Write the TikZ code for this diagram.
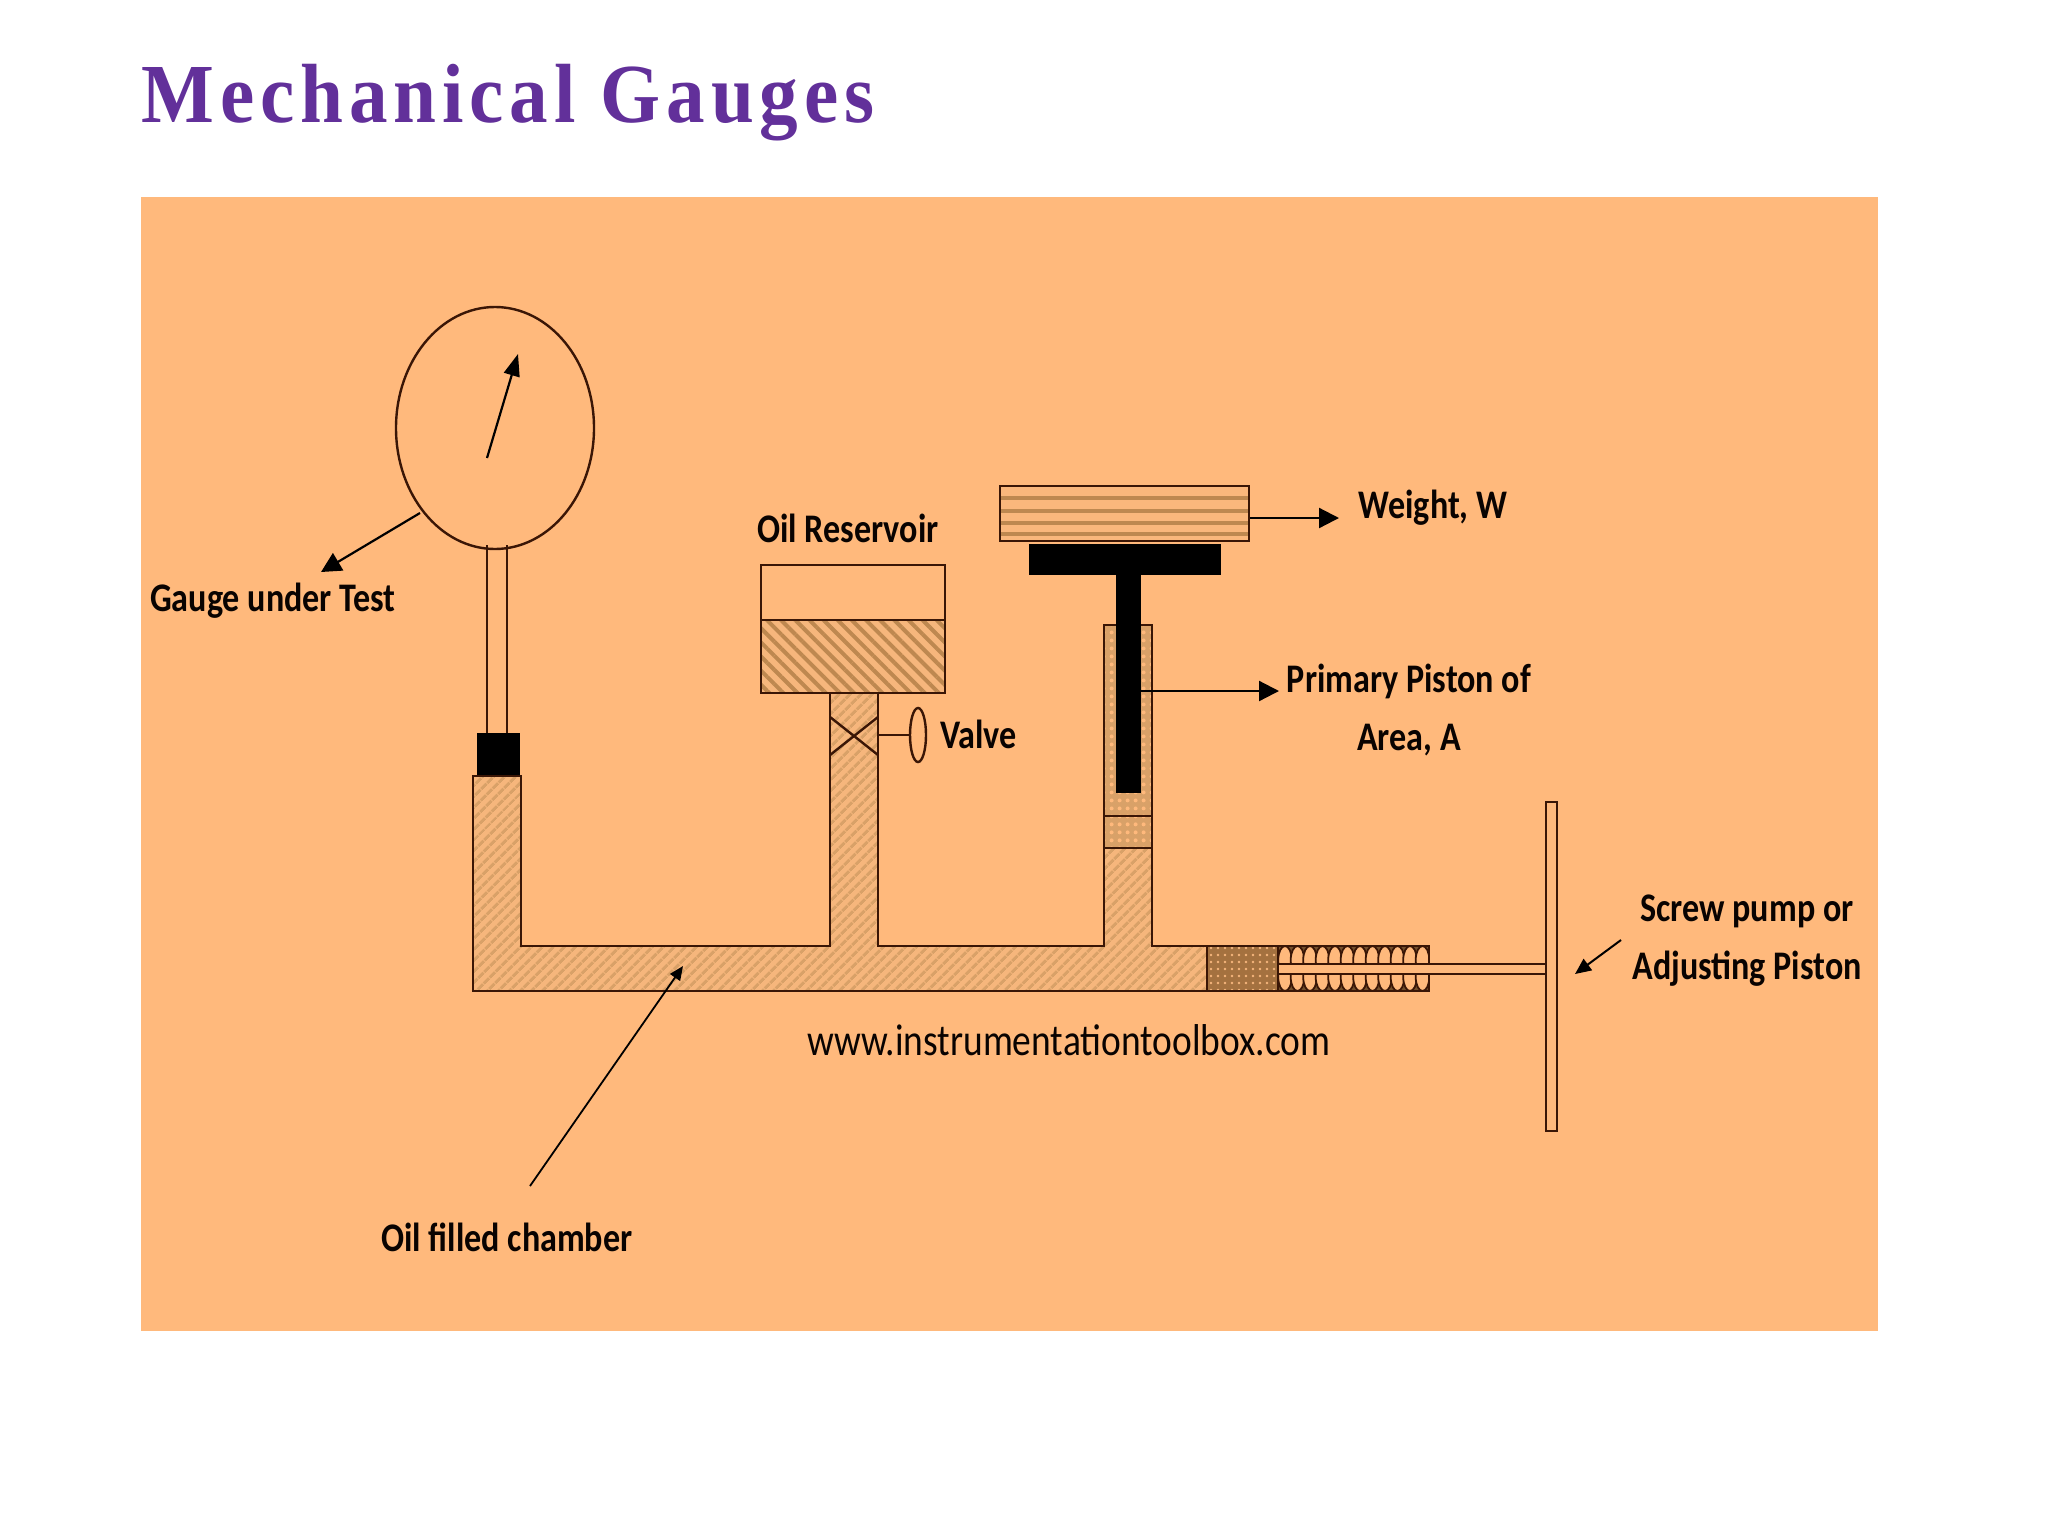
\documentclass[tikz,border=0pt]{standalone}
\usepackage{fontspec}
\setmainfont[FakeStretch=0.84]{Carlito}
\newfontfamily\titlefont[LetterSpace=7, FakeStretch=0.918]{Liberation Serif}
\usetikzlibrary{positioning, calc, arrows.meta, shapes.geometric, patterns.meta}
\definecolor{PanelOrange}{HTML}{FFB97C}
\definecolor{TitlePurple}{HTML}{62309A}
\definecolor{WallBrown}{HTML}{3A1606}
\definecolor{OilLight}{HTML}{F6B67C}
\definecolor{OilLine}{HTML}{D9A168}
\definecolor{TankLine}{HTML}{BE8850}
\definecolor{PlugBrown}{HTML}{A4713F}

\begin{document}
\begin{tikzpicture}[
  x=0.5pt, y=-0.5pt,
  wall/.style={draw=WallBrown, line width=1.2pt},
  oilfill/.style={wall, preaction={fill=OilLight}, pattern={Lines[angle=45, distance=4pt, line width=1.6pt]}, pattern color=OilLine},
  tankfill/.style={wall, preaction={fill=OilLight}, pattern={Lines[angle=-45, distance=5pt, line width=2pt]}, pattern color=TankLine},
  crossfill/.style={wall, preaction={fill=OilLine}, pattern={Dots[distance=4pt, radius=1.1pt]}, pattern color=PanelOrange},
  lbl/.style={font=\fontsize{20.3}{24}\selectfont\bfseries, text=black!85!WallBrown, align=center, inner sep=0pt},
  arr/.style={-{Triangle[length=10pt, width=10pt]}, black, line width=1.1pt},
  blk/.style={fill=black, draw=none}
]
  \useasboundingbox (0,0) rectangle (2048,1536);
  \fill[PanelOrange] (141,197) rectangle (1878,1331);
  \node[anchor=base west, inner sep=0pt, text=TitlePurple, font=\titlefont\fontsize{42}{48}\selectfont\bfseries] (title) at (141,122) {Mechanical Gauges};

  % gauge
  \draw[wall] (487,545) -- (487,733) (507,545) -- (507,733);
  \node[ellipse, wall, minimum width=99pt, minimum height=121pt, inner sep=0pt] (gauge) at (495,428) {};
  \coordinate (needlebase) at (487,458);
  \coordinate (needletip) at (518,354);
  \draw[arr, -{Triangle[length=11pt, width=8pt]}] (needlebase) -- (needletip);
  \node[blk, minimum width=21.5pt, minimum height=21.5pt, inner sep=0pt] (gaugeblock) at (498,754.5) {};

  % chamber and legs
  \draw[oilfill] (473,776) -- (521,776) -- (521,946) -- (830,946) -- (830,693) -- (878,693) -- (878,946)
    -- (1104,946) -- (1104,848) -- (1152,848) -- (1152,946) -- (1207,946) -- (1207,991) -- (473,991) -- cycle;

  % reservoir
  \draw[wall] (761,565) rectangle (945,620);
  \draw[tankfill] (761,620) rectangle (945,693);
  \coordinate (valveTL) at (830,717);
  \coordinate (valveTR) at (878,717);
  \coordinate (valveBL) at (830,755);
  \coordinate (valveBR) at (878,755);
  \draw[wall] (valveTL) -- (valveBR) (valveTR) -- (valveBL);
  \node[ellipse, wall, minimum width=8pt, minimum height=27pt, inner sep=0pt] (valvewheel) at (918,735) {};
  \coordinate (valveside) at (878,735);
  \draw[wall] (valveside) -- (valvewheel);

  % piston
  \draw[crossfill] (1104,625) rectangle (1152,816);
  \draw[crossfill] (1104,816) rectangle (1152,848);
  \fill[black] (1029,544) rectangle (1221,575);
  \fill[black] (1116,575) rectangle (1141,793);
  \coordinate (stemside) at (1141,691);
  \node[wall, fill=OilLight!60!PanelOrange, minimum width=124.5pt, minimum height=27.5pt, inner sep=0pt] (weight) at (1124.5,513.5) {};
  \foreach \y in {498,511,523,534} {
    \draw[TankLine, line width=1.6pt] (1001,\y) -- (1248,\y);
  }

  % screw pump
  \fill[PlugBrown!70!black] (1278,946) rectangle (1429,991);
  \begin{scope}
    \clip (1278,946) rectangle (1429,964);
    \foreach \i in {0,...,11} {
      \draw[wall, line width=0.9pt, fill=PanelOrange] ({1285+\i*12.5},960) ellipse (6.8 and 14);
    }
  \end{scope}
  \begin{scope}
    \clip (1278,974) rectangle (1429,991);
    \foreach \i in {0,...,11} {
      \draw[wall, line width=0.9pt, fill=PanelOrange] ({1285+\i*12.5},977) ellipse (6.8 and 14);
    }
  \end{scope}
  \draw[wall] (1278,946) -- (1429,946) -- (1429,991) -- (1278,991);
  \draw[wall, preaction={fill=PlugBrown}, pattern={Dots[distance=3.5pt, radius=0.7pt]}, pattern color=OilLight] (1207,946) rectangle (1278,991);
  \fill[PanelOrange] (1279,964.5) rectangle (1546,973.5);
  \draw[wall] (1278,964) -- (1546,964) (1278,974) -- (1546,974);
  \draw[wall] (1546,802) rectangle (1557,1131);

  % labels
  \node[lbl] (gaugelabel) at (273,601) {Gauge under Test};
  \node[lbl] (reservoirlabel) at (848,528) {Oil Reservoir};
  \node[lbl, anchor=west] (valvelabel) at (940,734) {Valve};
  \node[lbl] (weightlabel) at (1433,508) {Weight, W};
  \node[lbl] (pistonlabel) at (1409,681) {Primary Piston of};
  \node[lbl] (arealabel) at (1409,740) {Area, A};
  \node[lbl] (pumplabel) at (1747,911) {Screw pump or};
  \node[lbl] (adjustlabel) at (1747,969) {Adjusting Piston};
  \node[lbl, font=\fontsize{22.3}{26}\selectfont] (sitelabel) at (1069,1040) {www.instrumentationtoolbox.com};
  \node[lbl] (chamberlabel) at (507,1237) {Oil filled chamber};

  % pointers
  \coordinate (gaugetip) at (321,572);
  \coordinate (gaugefoot) at (420,513);
  \coordinate (weighttip) at (1339,518);
  \coordinate (pistontip) at (1279,691);
  \coordinate (chamberfoot) at (530,1186);
  \coordinate (chambertip) at (683,966);
  \coordinate (pumpfoot) at (1621,940);
  \coordinate (pumptip) at (1575,974);
  \draw[arr] (gaugefoot) -- (gaugetip);
  \draw[arr] (weight.east |- weighttip) -- (weighttip);
  \draw[arr] (stemside) -- (pistontip);
  \draw[-{Triangle[length=7pt, width=6pt]}, black, line width=0.9pt] (chamberfoot) -- (chambertip);
  \draw[-{Triangle[length=8pt, width=7pt]}, black, line width=1pt] (pumpfoot) -- (pumptip);
\end{tikzpicture}
\end{document}
